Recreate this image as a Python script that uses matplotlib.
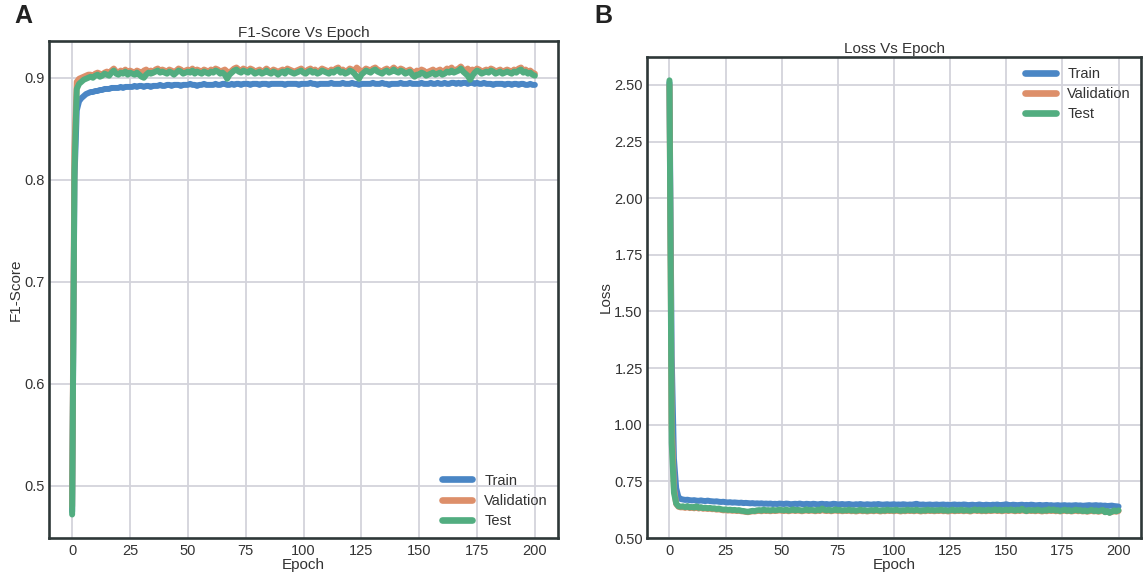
import matplotlib
matplotlib.use("Agg")
import matplotlib.pyplot as plt
import numpy as np

epochs = list(range(201))

f1_train = [
0.475, 0.800, 0.868, 0.877, 0.880, 0.882, 0.884, 0.885, 0.886, 0.886,
0.887, 0.887, 0.888, 0.888, 0.889, 0.889, 0.889, 0.890, 0.890, 0.890,
0.890, 0.891, 0.890, 0.891, 0.891, 0.891, 0.891, 0.892, 0.891, 0.892,
0.892, 0.891, 0.892, 0.892, 0.891, 0.892, 0.892, 0.892, 0.893, 0.892,
0.892, 0.893, 0.893, 0.892, 0.893, 0.893, 0.893, 0.892, 0.893, 0.893,
0.893, 0.894, 0.893, 0.893, 0.892, 0.893, 0.893, 0.894, 0.893, 0.893,
0.893, 0.893, 0.894, 0.893, 0.893, 0.894, 0.894, 0.893, 0.893, 0.894,
0.893, 0.894, 0.894, 0.893, 0.894, 0.894, 0.894, 0.893, 0.894, 0.894,
0.894, 0.893, 0.894, 0.894, 0.894, 0.893, 0.894, 0.894, 0.894, 0.894,
0.894, 0.894, 0.893, 0.894, 0.894, 0.894, 0.894, 0.894, 0.893, 0.894,
0.894, 0.894, 0.894, 0.895, 0.894, 0.894, 0.893, 0.894, 0.894, 0.894,
0.894, 0.894, 0.895, 0.894, 0.894, 0.894, 0.894, 0.895, 0.894, 0.894,
0.894, 0.895, 0.894, 0.894, 0.893, 0.894, 0.894, 0.894, 0.894, 0.894,
0.895, 0.894, 0.894, 0.894, 0.895, 0.894, 0.894, 0.893, 0.894, 0.894,
0.894, 0.894, 0.895, 0.894, 0.894, 0.894, 0.895, 0.894, 0.894, 0.894,
0.894, 0.895, 0.894, 0.894, 0.894, 0.895, 0.894, 0.894, 0.895, 0.894,
0.894, 0.895, 0.894, 0.894, 0.895, 0.895, 0.894, 0.895, 0.894, 0.895,
0.895, 0.894, 0.895, 0.895, 0.894, 0.895, 0.894, 0.894, 0.895, 0.894,
0.894, 0.894, 0.893, 0.894, 0.894, 0.894, 0.894, 0.893, 0.894, 0.894,
0.893, 0.894, 0.894, 0.893, 0.894, 0.894, 0.893, 0.893, 0.894, 0.893,
0.893]

f1_val = [
0.480, 0.830, 0.896, 0.899, 0.900, 0.901, 0.902, 0.903, 0.903, 0.902,
0.904, 0.905, 0.904, 0.903, 0.905, 0.906, 0.904, 0.907, 0.909, 0.906,
0.905, 0.907, 0.906, 0.908, 0.905, 0.907, 0.906, 0.905, 0.907, 0.906,
0.904, 0.907, 0.908, 0.906, 0.907, 0.905, 0.908, 0.909, 0.907, 0.908,
0.907, 0.906, 0.908, 0.907, 0.905, 0.907, 0.909, 0.908, 0.906, 0.907,
0.908, 0.907, 0.909, 0.906, 0.908, 0.907, 0.906, 0.908, 0.907, 0.906,
0.908, 0.907, 0.909, 0.908, 0.906, 0.907, 0.908, 0.906, 0.905, 0.907,
0.909, 0.910, 0.908, 0.907, 0.909, 0.908, 0.907, 0.909, 0.908, 0.906,
0.907, 0.908, 0.906, 0.907, 0.909, 0.907, 0.906, 0.908, 0.907, 0.905,
0.907, 0.908, 0.906, 0.909, 0.908, 0.907, 0.906, 0.907, 0.908, 0.909,
0.907, 0.906, 0.908, 0.909, 0.907, 0.908, 0.906, 0.907, 0.909, 0.908,
0.907, 0.906, 0.908, 0.907, 0.909, 0.910, 0.907, 0.908, 0.906, 0.907,
0.909, 0.908, 0.907, 0.910, 0.908, 0.906, 0.907, 0.909, 0.908, 0.907,
0.909, 0.910, 0.908, 0.907, 0.906, 0.908, 0.909, 0.907, 0.908, 0.910,
0.908, 0.907, 0.909, 0.908, 0.906, 0.907, 0.908, 0.906, 0.905, 0.907,
0.906, 0.908, 0.907, 0.905, 0.906, 0.907, 0.908, 0.906, 0.907, 0.908,
0.906, 0.907, 0.909, 0.908, 0.910, 0.907, 0.908, 0.909, 0.911, 0.908,
0.907, 0.909, 0.906, 0.908, 0.907, 0.909, 0.908, 0.906, 0.907, 0.908,
0.907, 0.909, 0.908, 0.906, 0.907, 0.908, 0.906, 0.907, 0.908, 0.907,
0.906, 0.908, 0.907, 0.909, 0.910, 0.907, 0.908, 0.906, 0.907, 0.905,
0.904]

f1_test = [
0.472, 0.810, 0.889, 0.894, 0.896, 0.898, 0.899, 0.900, 0.901, 0.900,
0.902, 0.903, 0.901, 0.902, 0.904, 0.903, 0.902, 0.905, 0.907, 0.904,
0.903, 0.905, 0.904, 0.906, 0.903, 0.905, 0.904, 0.903, 0.905, 0.903,
0.901, 0.900, 0.903, 0.905, 0.904, 0.905, 0.906, 0.907, 0.905, 0.906,
0.905, 0.904, 0.906, 0.905, 0.903, 0.905, 0.907, 0.906, 0.904, 0.905,
0.906, 0.905, 0.907, 0.904, 0.906, 0.905, 0.904, 0.906, 0.905, 0.904,
0.906, 0.905, 0.907, 0.906, 0.904, 0.905, 0.903, 0.899, 0.903, 0.905,
0.907, 0.908, 0.906, 0.905, 0.907, 0.906, 0.905, 0.907, 0.906, 0.904,
0.905, 0.906, 0.904, 0.905, 0.907, 0.905, 0.904, 0.906, 0.905, 0.903,
0.905, 0.906, 0.904, 0.907, 0.906, 0.905, 0.904, 0.905, 0.906, 0.907,
0.905, 0.904, 0.906, 0.907, 0.905, 0.906, 0.904, 0.905, 0.907, 0.906,
0.905, 0.904, 0.906, 0.905, 0.907, 0.908, 0.905, 0.906, 0.904, 0.905,
0.907, 0.906, 0.904, 0.901, 0.899, 0.903, 0.905, 0.907, 0.906, 0.905,
0.907, 0.908, 0.906, 0.905, 0.904, 0.906, 0.907, 0.905, 0.906, 0.908,
0.906, 0.905, 0.907, 0.906, 0.904, 0.905, 0.906, 0.903, 0.901, 0.903,
0.903, 0.905, 0.904, 0.902, 0.903, 0.904, 0.905, 0.903, 0.904, 0.905,
0.903, 0.904, 0.906, 0.905, 0.907, 0.905, 0.906, 0.907, 0.909, 0.906,
0.904, 0.902, 0.898, 0.902, 0.905, 0.907, 0.906, 0.904, 0.905, 0.906,
0.905, 0.907, 0.906, 0.904, 0.905, 0.906, 0.904, 0.905, 0.906, 0.905,
0.904, 0.906, 0.905, 0.907, 0.908, 0.905, 0.906, 0.904, 0.905, 0.903,
0.902]

loss_train = [
2.510, 1.300, 0.850, 0.720, 0.680, 0.672, 0.670, 0.668, 0.669, 0.667,
0.666, 0.667, 0.665, 0.664, 0.666, 0.664, 0.663, 0.665, 0.663, 0.662,
0.661, 0.662, 0.660, 0.659, 0.660, 0.658, 0.657, 0.658, 0.656, 0.657,
0.656, 0.655, 0.656, 0.654, 0.655, 0.654, 0.653, 0.654, 0.652, 0.653,
0.652, 0.653, 0.651, 0.652, 0.651, 0.652, 0.650, 0.651, 0.650, 0.652,
0.651, 0.650, 0.652, 0.651, 0.649, 0.650, 0.651, 0.650, 0.652, 0.650,
0.649, 0.651, 0.650, 0.649, 0.651, 0.650, 0.648, 0.650, 0.651, 0.649,
0.650, 0.648, 0.649, 0.651, 0.650, 0.648, 0.649, 0.650, 0.648, 0.649,
0.650, 0.648, 0.647, 0.649, 0.648, 0.650, 0.648, 0.647, 0.649, 0.648,
0.647, 0.649, 0.648, 0.650, 0.648, 0.647, 0.648, 0.649, 0.647, 0.648,
0.649, 0.647, 0.648, 0.647, 0.649, 0.648, 0.646, 0.648, 0.647, 0.649,
0.651, 0.648, 0.647, 0.648, 0.646, 0.647, 0.648, 0.646, 0.647, 0.648,
0.646, 0.647, 0.648, 0.646, 0.647, 0.645, 0.647, 0.648, 0.646, 0.647,
0.646, 0.648, 0.647, 0.645, 0.646, 0.647, 0.645, 0.646, 0.648, 0.646,
0.645, 0.647, 0.646, 0.645, 0.647, 0.646, 0.648, 0.645, 0.646, 0.647,
0.649, 0.646, 0.645, 0.647, 0.646, 0.645, 0.646, 0.647, 0.645, 0.646,
0.645, 0.647, 0.646, 0.644, 0.645, 0.646, 0.644, 0.645, 0.646, 0.644,
0.645, 0.643, 0.644, 0.645, 0.643, 0.644, 0.645, 0.643, 0.644, 0.643,
0.644, 0.645, 0.643, 0.644, 0.642, 0.643, 0.644, 0.645, 0.643, 0.644,
0.645, 0.643, 0.644, 0.642, 0.643, 0.641, 0.642, 0.643, 0.641, 0.640,
0.639]

loss_val = [
2.500, 1.000, 0.720, 0.650, 0.638, 0.635, 0.636, 0.633, 0.637, 0.632,
0.634, 0.631, 0.636, 0.630, 0.633, 0.629, 0.631, 0.628, 0.630, 0.627,
0.628, 0.625, 0.627, 0.624, 0.622, 0.623, 0.621, 0.622, 0.620, 0.621,
0.619, 0.620, 0.618, 0.617, 0.615, 0.614, 0.616, 0.618, 0.617, 0.619,
0.620, 0.618, 0.621, 0.619, 0.620, 0.618, 0.621, 0.619, 0.620, 0.622,
0.620, 0.619, 0.621, 0.618, 0.620, 0.622, 0.619, 0.621, 0.620, 0.618,
0.620, 0.622, 0.619, 0.621, 0.620, 0.618, 0.621, 0.619, 0.624, 0.620,
0.619, 0.621, 0.618, 0.620, 0.622, 0.619, 0.621, 0.618, 0.620, 0.619,
0.621, 0.618, 0.620, 0.617, 0.619, 0.621, 0.618, 0.620, 0.617, 0.619,
0.620, 0.618, 0.621, 0.619, 0.617, 0.620, 0.618, 0.621, 0.619, 0.620,
0.618, 0.621, 0.619, 0.617, 0.620, 0.618, 0.621, 0.619, 0.620, 0.618,
0.621, 0.619, 0.617, 0.620, 0.618, 0.621, 0.619, 0.620, 0.618, 0.620,
0.619, 0.621, 0.618, 0.620, 0.617, 0.619, 0.621, 0.618, 0.620, 0.619,
0.621, 0.618, 0.620, 0.619, 0.617, 0.620, 0.622, 0.619, 0.621, 0.618,
0.620, 0.618, 0.621, 0.619, 0.620, 0.622, 0.619, 0.621, 0.618, 0.620,
0.621, 0.619, 0.622, 0.620, 0.618, 0.621, 0.619, 0.623, 0.620, 0.618,
0.621, 0.619, 0.620, 0.618, 0.621, 0.619, 0.617, 0.620, 0.618, 0.621,
0.619, 0.622, 0.618, 0.620, 0.617, 0.619, 0.621, 0.618, 0.620, 0.617,
0.619, 0.621, 0.618, 0.620, 0.617, 0.619, 0.616, 0.618, 0.620, 0.617,
0.619, 0.616, 0.618, 0.620, 0.614, 0.617, 0.612, 0.615, 0.618, 0.616,
0.619]

loss_test = [
2.520, 0.920, 0.700, 0.652, 0.640, 0.638, 0.640, 0.636, 0.641, 0.635,
0.637, 0.634, 0.640, 0.633, 0.636, 0.632, 0.634, 0.631, 0.633, 0.630,
0.631, 0.628, 0.630, 0.627, 0.625, 0.626, 0.624, 0.625, 0.623, 0.624,
0.622, 0.623, 0.620, 0.619, 0.617, 0.616, 0.618, 0.620, 0.619, 0.622,
0.623, 0.621, 0.625, 0.622, 0.623, 0.621, 0.624, 0.622, 0.623, 0.625,
0.623, 0.622, 0.625, 0.621, 0.623, 0.626, 0.622, 0.624, 0.623, 0.621,
0.623, 0.626, 0.622, 0.624, 0.623, 0.621, 0.625, 0.622, 0.630, 0.624,
0.622, 0.625, 0.621, 0.623, 0.626, 0.622, 0.624, 0.621, 0.623, 0.622,
0.625, 0.621, 0.623, 0.620, 0.622, 0.625, 0.621, 0.623, 0.620, 0.622,
0.623, 0.621, 0.625, 0.622, 0.620, 0.623, 0.621, 0.625, 0.622, 0.623,
0.621, 0.625, 0.622, 0.620, 0.623, 0.621, 0.625, 0.622, 0.623, 0.621,
0.625, 0.622, 0.620, 0.623, 0.621, 0.625, 0.622, 0.623, 0.621, 0.623,
0.622, 0.625, 0.621, 0.623, 0.620, 0.622, 0.625, 0.621, 0.623, 0.622,
0.625, 0.621, 0.623, 0.622, 0.620, 0.623, 0.626, 0.622, 0.625, 0.621,
0.623, 0.621, 0.625, 0.622, 0.623, 0.626, 0.622, 0.625, 0.621, 0.623,
0.625, 0.622, 0.626, 0.623, 0.621, 0.625, 0.622, 0.629, 0.623, 0.619,
0.624, 0.622, 0.623, 0.621, 0.625, 0.622, 0.620, 0.623, 0.621, 0.627,
0.622, 0.626, 0.621, 0.623, 0.619, 0.622, 0.625, 0.620, 0.623, 0.619,
0.622, 0.625, 0.621, 0.623, 0.619, 0.622, 0.618, 0.621, 0.624, 0.619,
0.622, 0.618, 0.621, 0.624, 0.614, 0.619, 0.611, 0.616, 0.622, 0.618,
0.622]

series_names = ["Train", "Validation", "Test"]
colors = ["#4a86c5", "#dd8f6a", "#52ad80"]

plt.rcParams['font.family'] = ['Liberation Sans', 'DejaVu Sans']

fig = plt.figure(figsize=(11.44, 5.79), dpi=100)
W, H = 1144, 579

def make_ax(l, t, r, b):
    return fig.add_axes([l / W, 1 - b / H, (r - l) / W, (b - t) / H])

axA = make_ax(49, 41, 558, 538)
axB = make_ax(647, 57, 1141, 538)

text_col = "#333333"
for ax in (axA, axB):
    ax.set_facecolor("white")
    ax.grid(True, color="#d3d3db", linewidth=1.3)
    ax.set_axisbelow(True)
    for s in ax.spines.values():
        s.set_color("#2e3838")
        s.set_linewidth(1.9)
    ax.tick_params(axis="both", length=0, labelsize=10.5, colors=text_col)
    ax.tick_params(axis="x", pad=4)
    ax.tick_params(axis="y", pad=3)
    ax.set_xticks([0, 25, 50, 75, 100, 125, 150, 175, 200])

for data, name, c in zip([f1_train, f1_val, f1_test], series_names, colors):
    axA.plot(epochs, data, color=c, linewidth=4.3, label=name, solid_capstyle="round")
for data, name, c in zip([loss_train, loss_val, loss_test], series_names, colors):
    axB.plot(epochs, data, color=c, linewidth=4.3, label=name, solid_capstyle="round")

axA.set_xlim(-10, 210)
axA.set_ylim(0.449, 0.936)
axA.set_yticks([0.5, 0.6, 0.7, 0.8, 0.9])
axA.set_yticklabels(["0.5", "0.6", "0.7", "0.8", "0.9"])
axB.set_xlim(-10, 210)
axB.set_ylim(0.5, 2.623)
axB.set_yticks([0.5, 0.75, 1.0, 1.25, 1.5, 1.75, 2.0, 2.25, 2.5])
axB.set_yticklabels(["0.50", "0.75", "1.00", "1.25", "1.50", "1.75", "2.00", "2.25", "2.50"])

axA.set_title("F1-Score Vs Epoch", fontsize=11, color=text_col, pad=3)
axB.set_title("Loss Vs Epoch", fontsize=11, color=text_col, pad=3)
axA.set_xlabel("Epoch", fontsize=11, color=text_col, labelpad=0)
axB.set_xlabel("Epoch", fontsize=11, color=text_col, labelpad=0)
axA.set_ylabel("F1-Score", fontsize=11, color=text_col, labelpad=1)
axB.set_ylabel("Loss", fontsize=11, color=text_col, labelpad=1)

legA = axA.legend(loc="lower right", frameon=False, fontsize=10.5, handlelength=2.1,
                  labelspacing=0.42, borderaxespad=0.3)
legB = axB.legend(loc="upper right", frameon=False, fontsize=10.5, handlelength=2.1,
                  labelspacing=0.42, borderaxespad=0.3)
for leg in (legA, legB):
    for t in leg.get_texts():
        t.set_color(text_col)
    for l in leg.get_lines():
        l.set_linewidth(4.8)

fig.text(14 / W, 1 - 16 / H, "A", fontsize=18, fontweight="bold", va="center", ha="left", color="#222222")
fig.text(594 / W, 1 - 16 / H, "B", fontsize=18, fontweight="bold", va="center", ha="left", color="#222222")

fig.savefig("out.png", dpi=100)
